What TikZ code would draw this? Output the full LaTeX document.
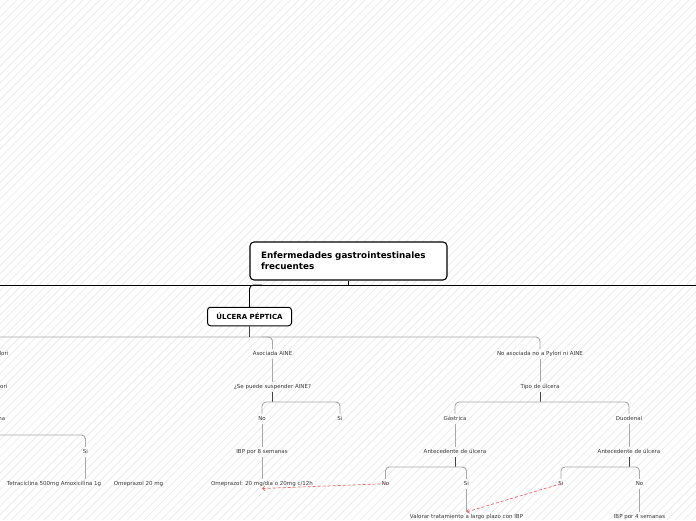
\documentclass[tikz,border=0pt]{standalone}
\usepackage{fontspec}
\setmainfont{DejaVu Sans}
\usetikzlibrary{arrows.meta}
\definecolor{txt}{HTML}{383838}
\definecolor{gline}{HTML}{A8A8A8}
\definecolor{dline}{HTML}{454545}
\definecolor{redl}{HTML}{EE6666}
\definecolor{hatchc}{HTML}{E9E9E9}
\begin{document}
\begin{tikzpicture}[x=1pt,y=-1pt,
  lbl/.style={font=\fontsize{5.5}{6}\selectfont, text=txt, inner sep=2pt, text height=4pt, text depth=1.2pt, yshift=-0.7pt},
  rootbox/.style={draw=black, line width=1.1pt, rounded corners=4pt, fill=white, minimum width=197pt, minimum height=38pt, text width=175pt, align=left, inner sep=0pt, font=\bfseries\fontsize{8.8}{11}\selectfont},
  topicbox/.style={draw=black, line width=1pt, rounded corners=3pt, fill=white, minimum width=84pt, minimum height=18.5pt, inner sep=0pt, font=\bfseries\fontsize{7}{8}\selectfont},
  bk/.style={draw=black, line width=0.9pt},
  gl/.style={draw=gline, line width=0.9pt, rounded corners=4pt},
  dl/.style={draw=dline, line width=0.9pt},
  rel/.style={draw=redl, line width=0.7pt, dash pattern=on 3pt off 2pt, -{Straight Barb[length=2.2pt,width=4.5pt]}},
]
\useasboundingbox (0,0) rectangle (696,520);
\clip (0,0) rectangle (696,520);
\fill[white] (0,0) rectangle (696,520);
% background hatch
\foreach \c in {0,8.3,...,1225} \draw[hatchc, line width=0.6pt] (\c,0) -- (\c-520,520);

% nodes
\node[rootbox] (root) at (348.5,261) {Enfermedades gastrointestinales\\frecuentes};
\node[topicbox] (ulc) at (249.5,316.5) {ÚLCERA PÉPTICA};

\node[lbl, anchor=east] (hp1) at (10.5,353) {lori};
\node[lbl] (asoc) at (272.5,353) {Asociada AINE};
\node[lbl] (noas) at (540,353) {No asociada no a Pylori ni AINE};

\node[lbl, anchor=east] (hp2) at (9.5,386) {ori};
\node[lbl] (susp) at (272.5,386) {¿Se puede suspender AINE?};
\node[lbl] (tipo) at (540,386) {Tipo de úlcera};

\node[lbl, anchor=east] (pen) at (7.5,418) {na};
\node[lbl] (no1) at (262,418) {No};
\node[lbl] (si1) at (340,418) {Si};
\node[lbl] (gas) at (455,418) {Gástrica};
\node[lbl] (duo) at (629,418) {Duodenal};

\node[lbl] (siL) at (85.5,451) {Si};
\node[lbl] (ibp8) at (262,451) {IBP por 8 semanas};
\node[lbl] (antg) at (455,451) {Antecedente de úlcera};
\node[lbl] (antd) at (629,451) {Antecedente de úlcera};

\node[lbl] (tetra) at (54,483) {Tetraciclina 500mg Amoxicilina 1g};
\node[lbl] (ome2) at (138.5,483) {Omeprazol 20 mg};
\node[lbl] (ome1) at (262,483) {Omeprazol: 20 mg/día o 20mg c/12h};
\node[lbl] (no2) at (385.5,483) {No};
\node[lbl] (si2) at (466.5,483) {Si};
\node[lbl] (si3) at (561,483) {Si};
\node[lbl] (no3) at (639.5,483) {No};

\node[lbl] (val) at (466.5,516) {Valorar tratamiento a largo plazo con IBP};
\node[lbl] (ibp4) at (639.5,516) {IBP por 4 semanas};

% junction coordinates
\coordinate (b1L) at (0,285);
\coordinate (b1R) at (696,285);
\coordinate (b1u) at (262,285);
\coordinate (b2L) at (0,337);
\coordinate (j0) at (249.5,337);
\coordinate (j1) at (262,337);
\coordinate (j2) at (272.5,402);
\coordinate (j3) at (540,402);
\coordinate (j4) at (455,467);
\coordinate (j5) at (629,467);
\coordinate (j6) at (0,435);

% connectors
\draw[bk] (root.south) -- (root.south |- b1L);
\draw[bk] (b1L) -- (b1R);
\draw[bk, rounded corners=4pt] (ulc.north) |- (b1u);

\draw[gl] (b2L) -| (noas.north);
\draw[gl] (j1) -| (asoc.north);
\draw[dl] (ulc.south) -- (j0);

\draw[gl] (asoc.south) -- (susp.north);
\draw[gl] (noas.south) -- (tipo.north);

\draw[dl] (susp.south) -- (j2);
\draw[gl] (no1.north) |- (j2) -| (si1.north);
\draw[dl] (tipo.south) -- (j3);
\draw[gl] (gas.north) |- (j3) -| (duo.north);

\draw[gl] (j6) -| (siL.north);
\draw[gl] (siL.south) -- (siL.south |- tetra.north);

\draw[gl] (no1.south) -- (ibp8.north);
\draw[gl] (ibp8.south) -- (ome1.north);
\draw[gl] (gas.south) -- (antg.north);
\draw[gl] (duo.south) -- (antd.north);

\draw[dl] (antg.south) -- (j4);
\draw[gl] (no2.north) |- (j4) -| (si2.north);
\draw[dl] (antd.south) -- (j5);
\draw[gl] (si3.north) |- (j5) -| (no3.north);

\draw[gl] (si2.south) -- (val.north);
\draw[gl] (no3.south) -- (ibp4.north);

% relationships
\draw[rel] (no2.center) -- (ome1.south);
\draw[rel] (si3.center) -- (val.north);
\end{tikzpicture}
\end{document}
